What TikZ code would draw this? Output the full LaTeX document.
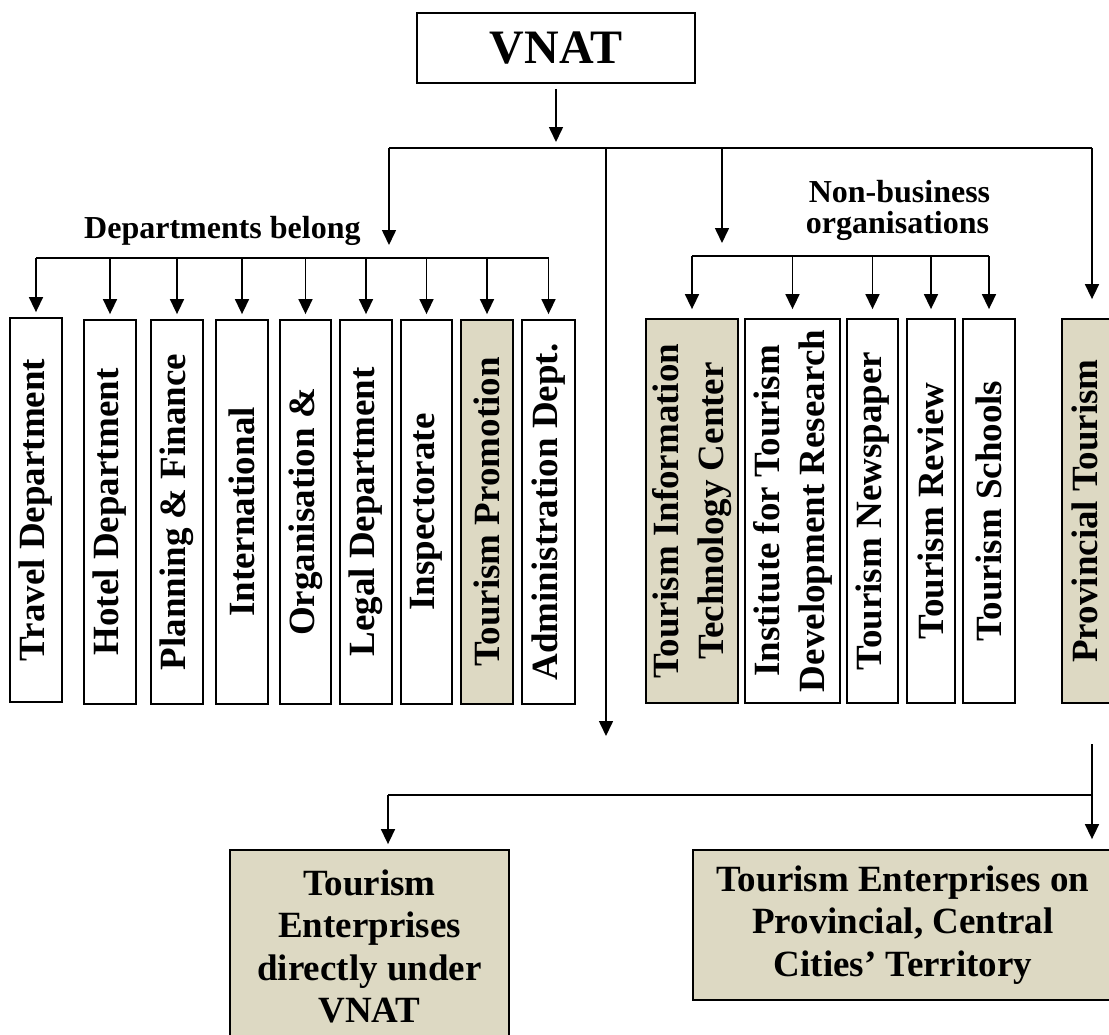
\documentclass[tikz,border=0pt]{standalone}
\usepackage{fontspec}
\setmainfont{Liberation Serif}
\usetikzlibrary{arrows.meta}
\definecolor{tanfill}{HTML}{DDD9C3}
\newcommand\vtxt[1]{\rotatebox{90}{\fontsize{37}{45}\selectfont #1}}
\newcommand\vtwo[2]{\rotatebox{90}{\fontsize{37}{45}\selectfont\begin{tabular}{@{}c@{}}#1\\#2\end{tabular}}}
\tikzset{
  ln/.style={line width=1.6pt},
  arr/.style={ln, -{Triangle[length=15pt,width=14pt]}},
  bx/.style={draw, line width=1.8pt, inner sep=0pt, font=\bfseries},
  vbx/.style={bx, minimum height=384pt},
  shaded/.style={fill=tanfill},
  lbl/.style={inner sep=0pt, font=\bfseries\fontsize{32}{34}\selectfont},
  bottomtxt/.style={bx, shaded, align=center, font=\bfseries\fontsize{37}{42.5}\selectfont},
}
\begin{document}
\begin{tikzpicture}[x=1pt,y=-1pt]
\useasboundingbox (0,0) rectangle (1109,1034);
\clip (0,0) rectangle (1109,1034);

% top
\node[bx, minimum width=278pt, minimum height=70pt, font=\bfseries\fontsize{48}{56}\selectfont] (vnat) at (556,48) {VNAT};

% department boxes
\node[vbx, minimum width=52pt] (t1) at (36,510) {\vtxt{Travel Department}};
\node[vbx, minimum width=52pt] (t2) at (110,512) {\vtxt{Hotel Department}};
\node[vbx, minimum width=52pt] (t3) at (177,512) {\vtxt{Planning \& Finance}};
\node[vbx, minimum width=52pt] (t4) at (242,512) {\vtxt{International}};
\node[vbx, minimum width=51pt] (t5) at (305.5,512) {\vtxt{Organisation \&}};
\node[vbx, minimum width=52pt] (t6) at (366,512) {\vtxt{Legal Department}};
\node[vbx, minimum width=51pt] (t7) at (426.5,512) {\vtxt{Inspectorate}};
\node[vbx, shaded, minimum width=52pt] (t8) at (487,512) {\vtxt{Tourism Promotion}};
\node[vbx, minimum width=53pt] (t9) at (548.5,512) {\vtxt{Administration Dept.}};

% non-business boxes
\node[vbx, shaded, minimum width=92pt] (n1) at (692,511) {\vtwo{Tourism Information}{Technology Center}};
\node[vbx, minimum width=95pt] (n2) at (792.5,511) {\vtwo{Institute for Tourism}{Development Research}};
\node[vbx, minimum width=51pt] (n3) at (872.5,511) {\vtxt{Tourism Newspaper}};
\node[vbx, minimum width=48pt] (n4) at (931,511) {\vtxt{Tourism Review}};
\node[vbx, minimum width=52pt] (n5) at (989,511) {\vtxt{Tourism Schools}};

% provincial
\node[vbx, shaded, minimum width=60pt] (p) at (1092,511) {\vtxt{Provincial Tourism}\hspace*{14pt}};

% bottom boxes
\node[bottomtxt, minimum width=279pt, minimum height=193pt] (b1) at (369.5,946.5) {Tourism\\Enterprises\\directly under\\VNAT};
\node[bottomtxt, minimum width=420pt, minimum height=150pt] (b2) at (903,925) {Tourism Enterprises on\\Provincial, Central\\Cities’ Territory};

% labels
\node[lbl, anchor=base west] (dlab) at (84,238) {Departments belong};
\node[lbl, anchor=base] (nlab1) at (899.5,202) {Non-business};
\node[lbl, anchor=base] (nlab2) at (897.5,233) {organisations};

% main connectors
\coordinate (vIn) at (556,148);
\coordinate (mL) at (389,148);
\coordinate (mM) at (606,148);
\coordinate (mN) at (722,148);
\coordinate (mR) at (1092,148);
\coordinate (depTip) at (389,245);
\coordinate (dirTip) at (606,736);
\coordinate (nbTip) at (722,243);
\draw[arr, shorten <=5pt, shorten >=6pt] (vnat.south) -- (vIn);
\draw[ln] (mL) -- (mR);
\draw[arr] (mL) -- (depTip);
\draw[arr] (mM) -- (dirTip);
\draw[arr] (mN) -- (nbTip);
\draw[arr, shorten >=19pt] (mR) -- (p.north);

% department bus
\coordinate (dbusY) at (0,258);
\draw[ln] (t1.north |- dbusY) -- (t9.north |- dbusY);
\foreach \n in {t1,t2,t3,t4,t5,t6,t7,t8,t9}
  \draw[arr, shorten >=5pt] (\n.north |- dbusY) -- (\n.north);

% non-business bus
\coordinate (nbusY) at (0,256);
\draw[ln] (n1.north |- nbusY) -- (n5.north |- nbusY);
\foreach \n in {n1,n2,n3,n4,n5}
  \draw[arr, shorten >=9pt] (\n.north |- nbusY) -- (\n.north);

% bottom connectors
\coordinate (pS) at (1092,744);
\coordinate (jR) at (1092,795);
\coordinate (jL) at (388,795);
\draw[arr, shorten >=10pt] (pS) -- (pS |- b2.north);
\draw[ln] (jR) -- (jL);
\draw[arr, shorten >=5pt] (jL) -- (jL |- b1.north);
\end{tikzpicture}
\end{document}
